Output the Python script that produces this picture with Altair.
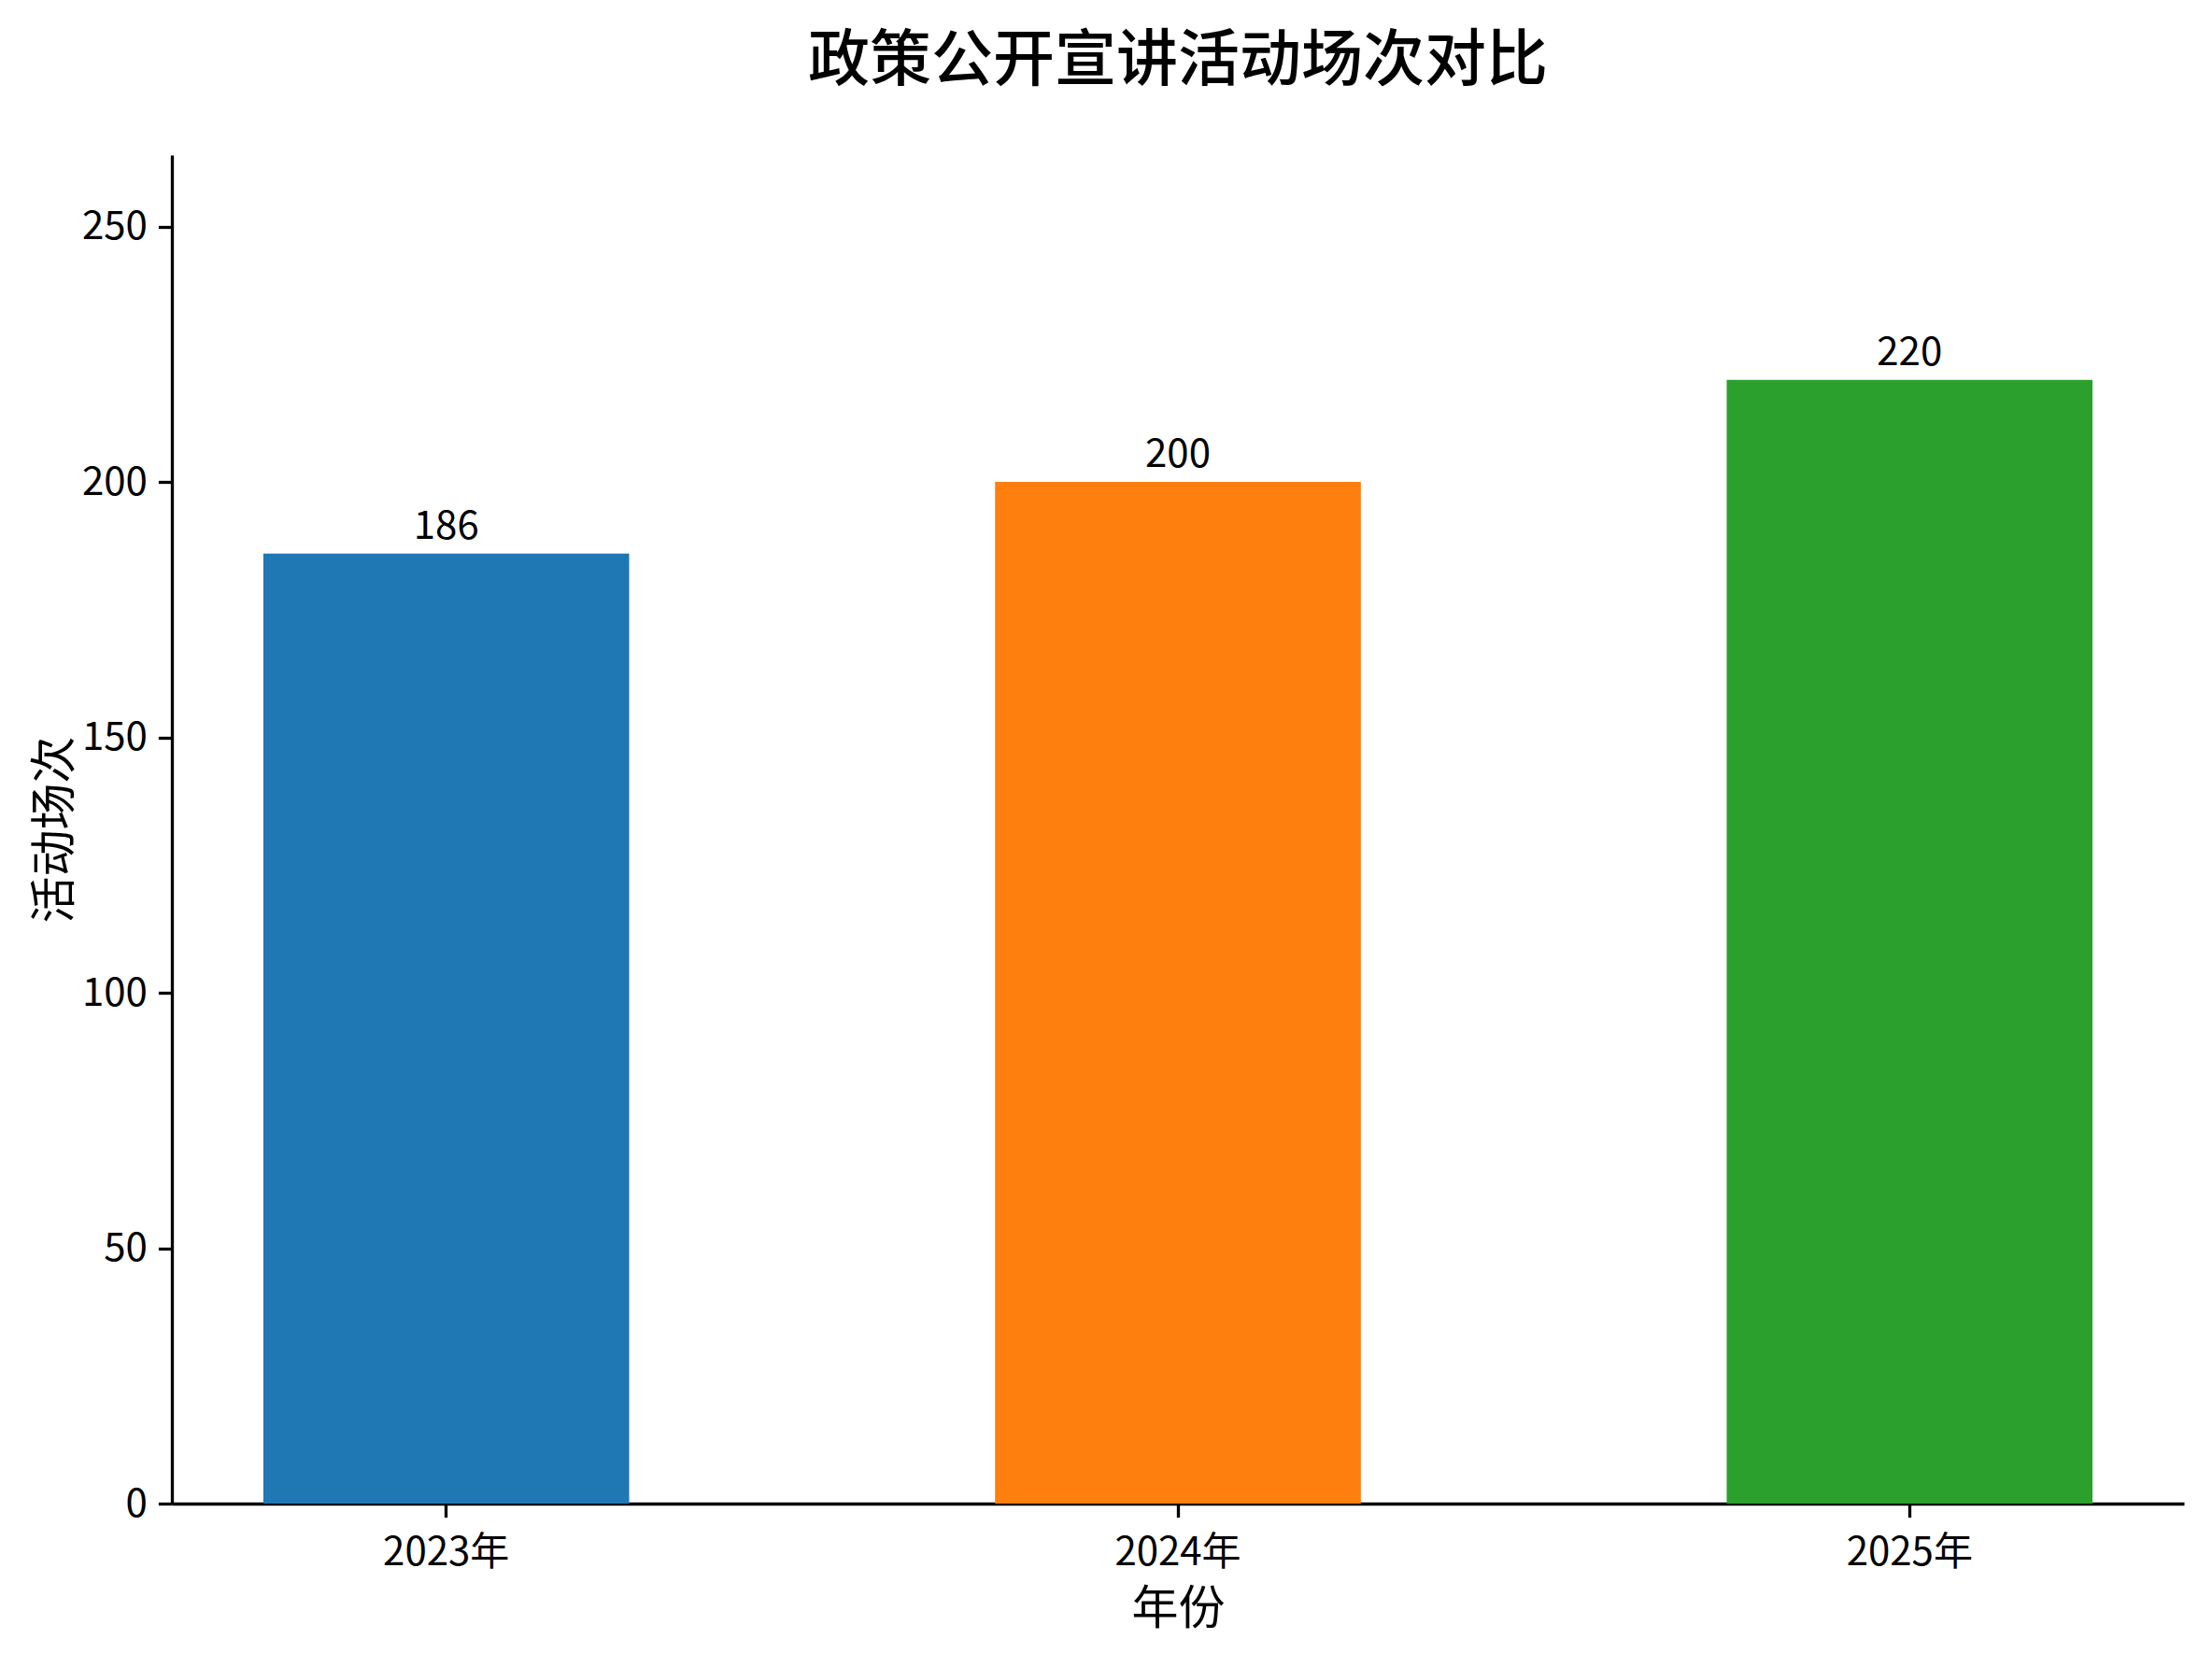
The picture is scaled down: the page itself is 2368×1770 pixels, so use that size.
import altair as alt
import pandas as pd

years = ["2023年", "2024年", "2025年"]
counts = [186, 200, 220]
colors = ["#1f77b4", "#ff7f0e", "#2ca02c"]

df = pd.DataFrame({"year": years, "count": counts})
FONT = "Noto Sans CJK SC"

x = alt.X("year:N", sort=years, title="年份",
          scale=alt.Scale(paddingInner=0.5, paddingOuter=0.125),
          axis=alt.Axis(labelAngle=0, labelFontSize=42, titleFontSize=50,
                        labelFont=FONT, titleFont=FONT, titleFontWeight="normal",
                        labelColor="black", titleColor="black",
                        domainColor="black", domainWidth=3.3,
                        tickColor="black", tickWidth=3.3, tickSize=14.6,
                        labelPadding=18, titlePadding=15, grid=False))
y = alt.Y("count:Q", title="活动场次",
          scale=alt.Scale(domain=[0, 264], nice=False, zero=True),
          axis=alt.Axis(values=[0, 50, 100, 150, 200, 250], labelFontSize=42,
                        titleFontSize=50, labelFont=FONT, titleFont=FONT,
                        titleFontWeight="normal", labelColor="black",
                        titleColor="black", domainColor="black", domainWidth=3.3,
                        tickColor="black", tickWidth=3.3, tickSize=14.6,
                        labelPadding=12, titlePadding=3, grid=False))

bars = alt.Chart(df).mark_bar().encode(
    x=x, y=y,
    color=alt.Color("year:N", sort=years,
                    scale=alt.Scale(domain=years, range=colors), legend=None),
)

labels = alt.Chart(df).mark_text(
    baseline="alphabetic", align="center", dy=-16, fontSize=42, font=FONT,
    color="black",
).encode(x=alt.X("year:N", sort=years), y="count:Q", text="count:Q")

chart = alt.layer(bars, labels).properties(
    width=2154, height=1444,
    title=alt.TitleParams("政策公开宣讲活动场次对比", fontSize=66, font=FONT,
                          fontWeight=500, color="black", anchor="middle",
                          offset=66),
    autosize=alt.AutoSizeParams(type="none"),
    padding={"left": 176, "top": 158, "right": 22, "bottom": 144},
).configure(background="white").configure_view(strokeWidth=0)

chart.save("out.html", embed_options={"renderer": "svg", "actions": False})
